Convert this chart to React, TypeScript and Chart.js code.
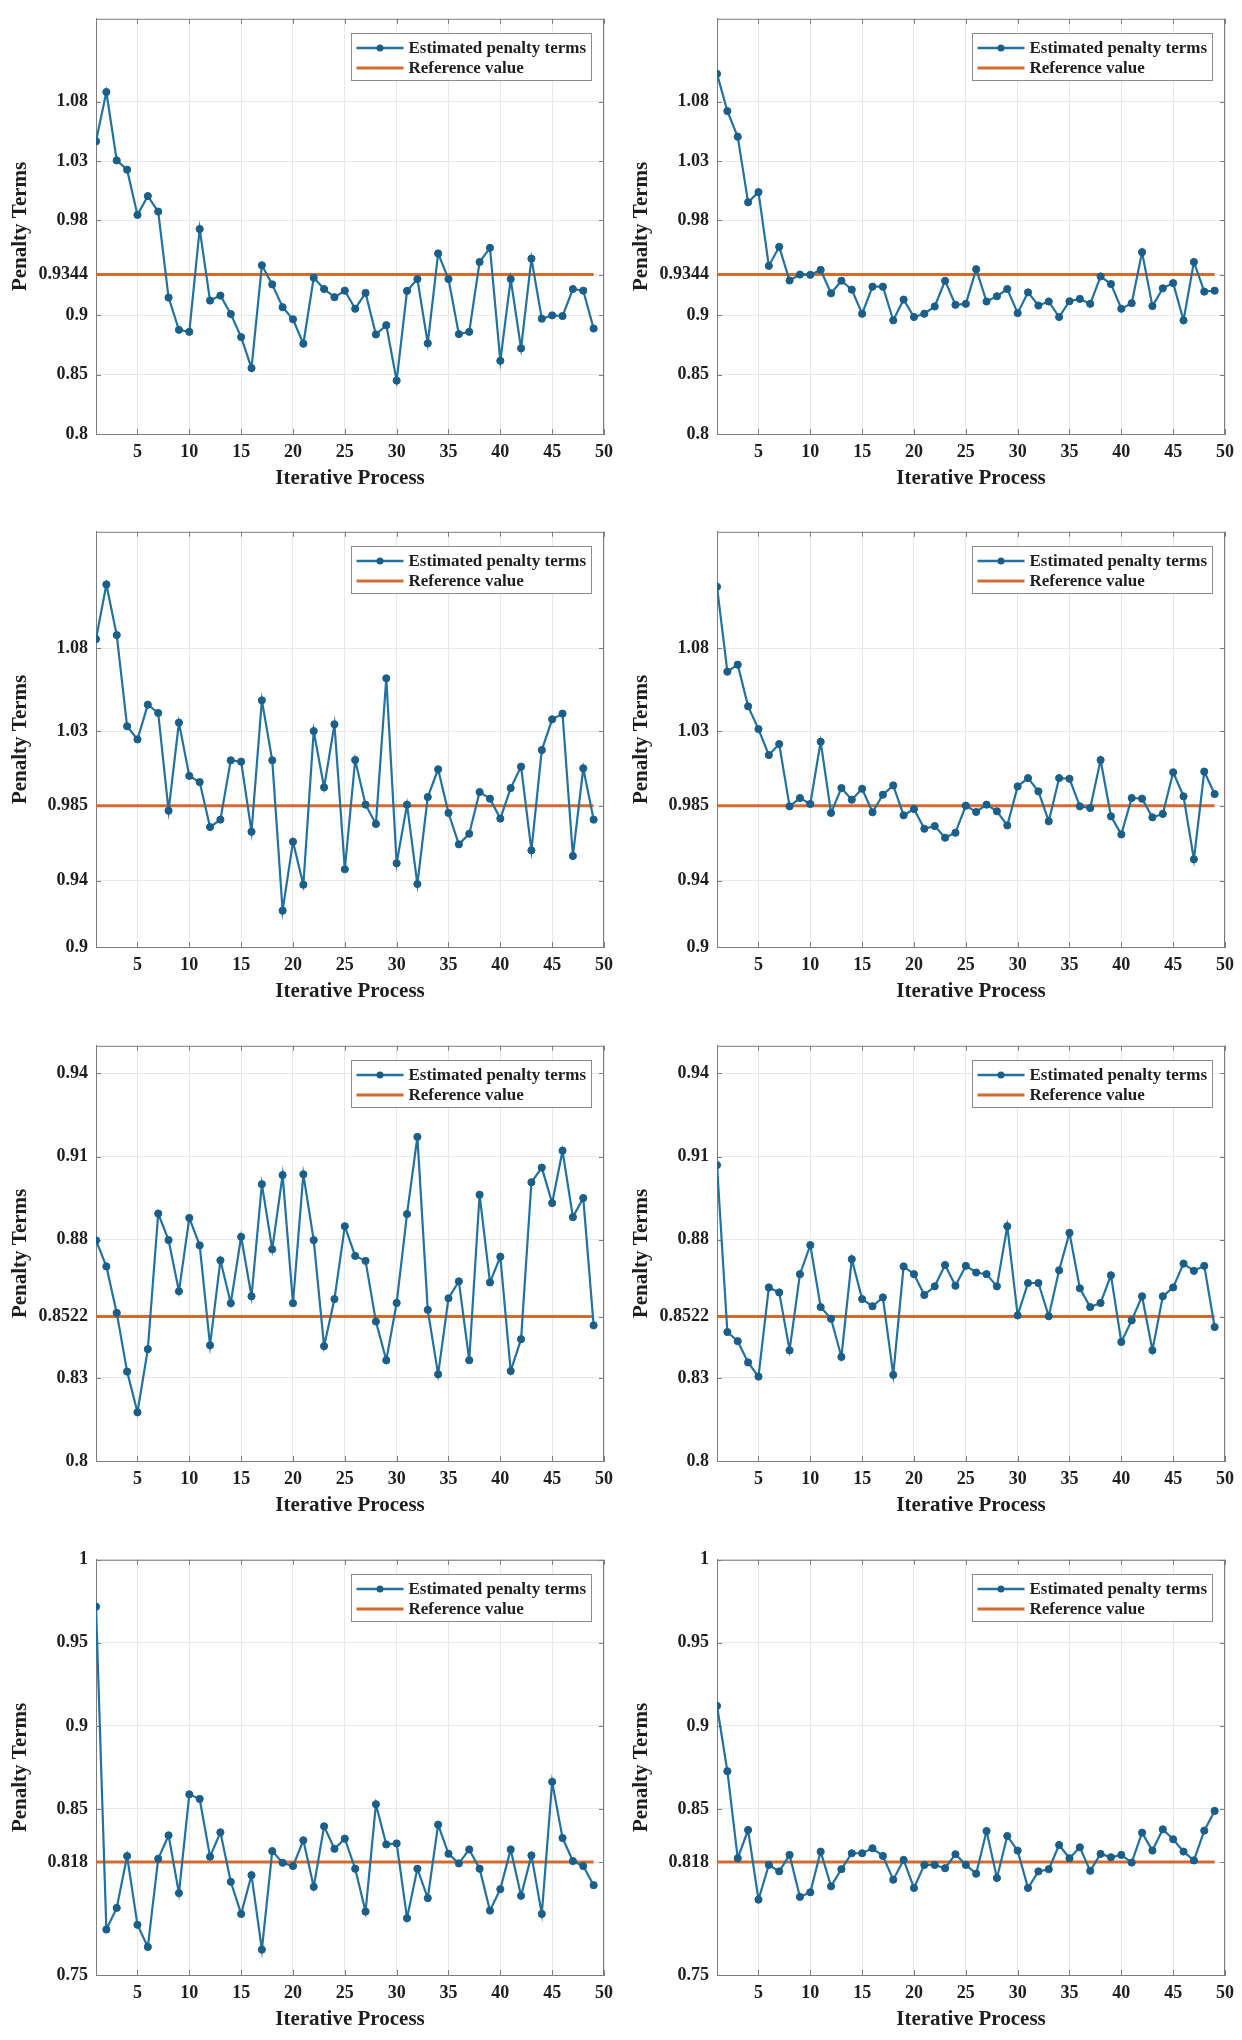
import React, { useEffect, useRef } from 'react';
import { Chart, registerables } from 'chart.js';

Chart.register(...registerables);

// Iteration index (x values)
const iterations = [
  1, 2, 3, 4, 5, 6, 7, 8, 9, 10,
  11, 12, 13, 14, 15, 16, 17, 18, 19, 20,
  21, 22, 23, 24, 25, 26, 27, 28, 29, 30,
  31, 32, 33, 34, 35, 36, 37, 38, 39, 40,
  41, 42, 43, 44, 45, 46, 47, 48, 49,
];
const xTickValues = [5, 10, 15, 20, 25, 30, 35, 40, 45, 50];

// Row 1
const series1 = [
  1.0467, 1.0883, 1.0306, 1.0228, 0.9847, 1.0006, 0.9875, 0.915, 0.8878, 0.8861,
  0.9728, 0.9125, 0.9167, 0.9011, 0.8817, 0.8556, 0.9422, 0.9261, 0.9069, 0.8967,
  0.8761, 0.9317, 0.9222, 0.9153, 0.9208, 0.9056, 0.9189, 0.8839, 0.8917, 0.845,
  0.9206, 0.9306, 0.8764, 0.9522, 0.9306, 0.8842, 0.8861, 0.945, 0.9569, 0.8617,
  0.9306, 0.8722, 0.9478, 0.8972, 0.9, 0.8994, 0.9222, 0.9208, 0.8889,
];
const series2 = [
  1.1036, 1.0722, 1.0506, 0.9953, 1.0039, 0.9417, 0.9578, 0.9294, 0.9344, 0.9342,
  0.9383, 0.9186, 0.9292, 0.9217, 0.9014, 0.9242, 0.9242, 0.8958, 0.9133, 0.8986,
  0.9014, 0.9075, 0.9292, 0.9089, 0.9097, 0.9389, 0.9117, 0.9161, 0.9222, 0.9019,
  0.9194, 0.9083, 0.9117, 0.8986, 0.9119, 0.9139, 0.9097, 0.9328, 0.9264, 0.9056,
  0.9103, 0.9533, 0.9078, 0.9228, 0.9272, 0.8958, 0.945, 0.92, 0.9208,
];
const reference12 = 0.9344;
const yTicks12 = [0.8, 0.85, 0.9, 0.9344, 0.98, 1.03, 1.08];
const yTickLabels12 = ['0.8', '0.85', '0.9', '0.9344', '0.98', '1.03', '1.08'];

// Row 2
const series3 = [
  1.0854, 1.1183, 1.0878, 1.0329, 1.025, 1.0459, 1.0409, 0.9821, 1.0351, 1.003,
  0.9993, 0.9722, 0.9767, 1.0124, 1.0116, 0.9694, 1.0485, 1.0124, 0.9219, 0.9634,
  0.9375, 1.03, 0.9961, 1.0341, 0.9468, 1.0126, 0.9857, 0.9741, 1.0618, 0.9504,
  0.9857, 0.9379, 0.9903, 1.007, 0.9807, 0.9618, 0.9682, 0.9933, 0.9893, 0.9773,
  0.9957, 1.0086, 0.9582, 1.0186, 1.0371, 1.0405, 0.9548, 1.0076, 0.9767,
];
const series4 = [
  1.1169, 1.0658, 1.07, 1.0449, 1.0312, 1.0156, 1.0222, 0.9847, 0.9897, 0.9861,
  1.0236, 0.9807, 0.9957, 0.9887, 0.9953, 0.9811, 0.9917, 0.9973, 0.9793, 0.9831,
  0.9712, 0.9728, 0.9658, 0.9688, 0.9851, 0.9813, 0.9857, 0.9817, 0.9732, 0.9967,
  1.0017, 0.9937, 0.9757, 1.0017, 1.0013, 0.9847, 0.9837, 1.0126, 0.9787, 0.9678,
  0.9897, 0.9893, 0.9781, 0.9801, 1.0052, 0.9907, 0.9528, 1.0056, 0.9921,
];
const reference34 = 0.985;
const yTicks34 = [0.9, 0.94, 0.985, 1.03, 1.08];
const yTickLabels34 = ['0.9', '0.94', '0.985', '1.03', '1.08'];

// Row 3
const series5 = [
  0.8797, 0.8703, 0.8535, 0.8323, 0.8176, 0.8404, 0.8894, 0.8798, 0.8613, 0.8878,
  0.8779, 0.8418, 0.8725, 0.857, 0.881, 0.8595, 0.9, 0.8765, 0.9033, 0.857,
  0.9036, 0.8798, 0.8415, 0.8585, 0.8848, 0.8741, 0.8723, 0.8504, 0.8364, 0.8571,
  0.8892, 0.9171, 0.8546, 0.8313, 0.8588, 0.8649, 0.8364, 0.8962, 0.8645, 0.8738,
  0.8325, 0.844, 0.9007, 0.906, 0.8932, 0.9121, 0.8881, 0.895, 0.849,
];
const series6 = [
  0.9069, 0.8466, 0.8433, 0.8356, 0.8305, 0.8627, 0.8609, 0.84, 0.8675, 0.878,
  0.8556, 0.8514, 0.8376, 0.8729, 0.8585, 0.8559, 0.8591, 0.8311, 0.8703, 0.8675,
  0.86, 0.8631, 0.8708, 0.8633, 0.8705, 0.8681, 0.8675, 0.8631, 0.8848, 0.8526,
  0.8643, 0.8643, 0.8523, 0.8689, 0.8824, 0.8624, 0.8556, 0.8571, 0.8671, 0.843,
  0.8508, 0.8595, 0.84, 0.8595, 0.8627, 0.8713, 0.8687, 0.8705, 0.8484,
];
const reference56 = 0.8522;
const yTicks56 = [0.8, 0.83, 0.8522, 0.88, 0.91, 0.94];
const yTickLabels56 = ['0.8', '0.83', '0.8522', '0.88', '0.91', '0.94'];

// Row 4
const series7 = [
  0.9718, 0.7774, 0.7904, 0.8216, 0.7802, 0.7669, 0.82, 0.8341, 0.7993, 0.8588,
  0.856, 0.8212, 0.8359, 0.8061, 0.7868, 0.8101, 0.7653, 0.8246, 0.8176, 0.8156,
  0.8311, 0.8031, 0.8395, 0.826, 0.8321, 0.814, 0.7882, 0.8528, 0.8286, 0.8292,
  0.7842, 0.814, 0.7963, 0.8405, 0.823, 0.8172, 0.8256, 0.814, 0.7888, 0.8017,
  0.8256, 0.7977, 0.822, 0.7868, 0.8663, 0.8325, 0.8186, 0.8156, 0.8041,
];
const series8 = [
  0.912, 0.8727, 0.8203, 0.8373, 0.7954, 0.8163, 0.8124, 0.8223, 0.797, 0.7998,
  0.8243, 0.8034, 0.8137, 0.8233, 0.8233, 0.8263, 0.8217, 0.8074, 0.8193, 0.8024,
  0.8163, 0.8163, 0.8143, 0.8227, 0.8163, 0.811, 0.8367, 0.8084, 0.8337, 0.8249,
  0.8024, 0.8124, 0.8137, 0.8283, 0.8203, 0.8269, 0.8127, 0.8229, 0.8209, 0.8223,
  0.8177, 0.8357, 0.8249, 0.8377, 0.8317, 0.8243, 0.819, 0.8369, 0.8488,
];
const reference78 = 0.818;
const yTicks78 = [0.75, 0.818, 0.85, 0.9, 0.95, 1];
const yTickLabels78 = ['0.75', '0.818', '0.85', '0.9', '0.95', '1'];

const legendLabels = ['Estimated penalty terms', 'Reference value'];
const xTitle = 'Iterative Process';
const yTitle = 'Penalty Terms';

const BLUE = '#22719f';
const BLUE_DARK = '#1b5f88';
const ORANGE = '#d56a2e';
const FONT = "'Liberation Serif', 'Times New Roman', serif";
const TEXT = '#1e1e1e';
const AXIS = '#7d7d7d';
const GRID = '#e8e8e8';

const CANVAS_W = 621;
const CANVAS_H = 499;

type PanelSpec = {
  values: number[];
  refValue: number;
  yMin: number;
  yMax: number;
  yTicks: number[];
  yTickLabels: string[];
  left: number;
  top: number;
};

const panels: PanelSpec[] = [
  { values: series1, refValue: reference12, yMin: 0.8, yMax: 1.15, yTicks: yTicks12, yTickLabels: yTickLabels12, left: 0, top: 0 },
  { values: series2, refValue: reference12, yMin: 0.8, yMax: 1.15, yTicks: yTicks12, yTickLabels: yTickLabels12, left: 621, top: 0 },
  { values: series3, refValue: reference34, yMin: 0.9, yMax: 1.15, yTicks: yTicks34, yTickLabels: yTickLabels34, left: 0, top: 513 },
  { values: series4, refValue: reference34, yMin: 0.9, yMax: 1.15, yTicks: yTicks34, yTickLabels: yTickLabels34, left: 621, top: 513 },
  { values: series5, refValue: reference56, yMin: 0.8, yMax: 0.95, yTicks: yTicks56, yTickLabels: yTickLabels56, left: 0, top: 1027 },
  { values: series6, refValue: reference56, yMin: 0.8, yMax: 0.95, yTicks: yTicks56, yTickLabels: yTickLabels56, left: 621, top: 1027 },
  { values: series7, refValue: reference78, yMin: 0.75, yMax: 1.0, yTicks: yTicks78, yTickLabels: yTickLabels78, left: 0, top: 1541 },
  { values: series8, refValue: reference78, yMin: 0.75, yMax: 1.0, yTicks: yTicks78, yTickLabels: yTickLabels78, left: 621, top: 1541 },
];

const framePlugin = {
  id: 'frameBox',
  beforeDatasetsDraw(chart: any) {
    const { ctx, chartArea, scales } = chart;
    const { left, right, top, bottom } = chartArea;
    ctx.save();
    ctx.strokeStyle = AXIS;
    ctx.lineWidth = 1;
    ctx.beginPath();
    ctx.moveTo(left, top + 0.5);
    ctx.lineTo(right, top + 0.5);
    ctx.moveTo(right - 0.5, top);
    ctx.lineTo(right - 0.5, bottom);
    // inward tick marks
    const tl = 5;
    scales.x.ticks.forEach((t: any) => {
      const px = Math.round(scales.x.getPixelForValue(t.value)) + 0.5;
      ctx.moveTo(px, bottom);
      ctx.lineTo(px, bottom - tl);
      ctx.moveTo(px, top);
      ctx.lineTo(px, top + tl);
    });
    scales.y.ticks.forEach((t: any) => {
      const py = Math.round(scales.y.getPixelForValue(t.value)) + 0.5;
      ctx.moveTo(left, py);
      ctx.lineTo(left + tl, py);
      ctx.moveTo(right, py);
      ctx.lineTo(right - tl, py);
    });
    ctx.stroke();
    ctx.restore();
  },
};

const legendPlugin = {
  id: 'boxLegend',
  afterDraw(chart: any) {
    const { ctx, chartArea } = chart;
    const w = 240;
    const h = 47;
    const x0 = Math.round(chartArea.right - 13 - w) + 0.5;
    const y0 = Math.round(chartArea.top + 14) + 0.5;
    ctx.save();
    ctx.fillStyle = '#ffffff';
    ctx.fillRect(x0, y0, w, h);
    ctx.strokeStyle = '#8c8c8c';
    ctx.lineWidth = 1;
    ctx.strokeRect(x0, y0, w, h);

    const lx1 = x0 + 5;
    const lx2 = x0 + 52;
    const r1 = y0 + 14.5;
    const r2 = y0 + 34.5;
    // row 1
    ctx.strokeStyle = BLUE;
    ctx.lineWidth = 2.5;
    ctx.beginPath();
    ctx.moveTo(lx1, r1);
    ctx.lineTo(lx2, r1);
    ctx.stroke();
    ctx.fillStyle = BLUE_DARK;
    ctx.beginPath();
    ctx.arc((lx1 + lx2) / 2, r1, 3.5, 0, Math.PI * 2);
    ctx.fill();
    // row 2
    ctx.strokeStyle = ORANGE;
    ctx.lineWidth = 3;
    ctx.beginPath();
    ctx.moveTo(lx1, r2);
    ctx.lineTo(lx2, r2);
    ctx.stroke();

    ctx.fillStyle = TEXT;
    ctx.font = `bold 17px ${FONT}`;
    ctx.textBaseline = 'middle';
    ctx.textAlign = 'left';
    ctx.fillText(legendLabels[0], x0 + 57, r1 + 1);
    ctx.fillText(legendLabels[1], x0 + 57, r2 + 1);
    ctx.restore();
  },
};

function Panel({ spec }: { spec: PanelSpec }) {
  const ref = useRef<HTMLCanvasElement | null>(null);
  useEffect(() => {
    if (!ref.current) return;
    const chart = new Chart(ref.current, {
      type: 'line',
      data: {
        datasets: [
          {
            label: legendLabels[0],
            data: iterations.map((x, i) => ({ x, y: spec.values[i] })),
            borderColor: BLUE,
            borderWidth: 2.2,
            pointRadius: 3.6,
            pointBackgroundColor: BLUE_DARK,
            pointBorderColor: BLUE_DARK,
            pointBorderWidth: 1,
            tension: 0,
            order: 0,
          },
          {
            label: legendLabels[1],
            data: [
              { x: iterations[0], y: spec.refValue },
              { x: iterations[iterations.length - 1], y: spec.refValue },
            ],
            borderColor: ORANGE,
            borderWidth: 3,
            pointRadius: 0,
            tension: 0,
            order: 1,
          },
        ],
      },
      options: {
        animation: false,
        responsive: false,
        maintainAspectRatio: false,
        events: [],
        layout: { padding: { left: 0, top: 14, right: 15, bottom: 0 } },
        plugins: {
          legend: { display: false },
          tooltip: { enabled: false },
        },
        scales: {
          x: {
            type: 'linear',
            min: 1,
            max: 50,
            afterBuildTicks: (scale: any) => {
              scale.ticks = xTickValues.map((v) => ({ value: v }));
            },
            afterFit: (scale: any) => {
              scale.height = 65;
            },
            grid: { color: GRID, lineWidth: 1, drawTicks: false },
            border: { color: AXIS, width: 1 },
            ticks: {
              padding: 8,
              color: TEXT,
              autoSkip: false,
              maxRotation: 0,
              font: { family: FONT, size: 18, weight: 'bold' },
              callback: (v: any) => String(v),
            },
            title: {
              display: true,
              text: xTitle,
              color: TEXT,
              font: { family: FONT, size: 21, weight: 'bold' },
              padding: { top: 0, bottom: 8 },
            },
          },
          y: {
            type: 'linear',
            min: spec.yMin,
            max: spec.yMax,
            afterBuildTicks: (scale: any) => {
              scale.ticks = spec.yTicks.map((v) => ({ value: v }));
            },
            afterFit: (scale: any) => {
              scale.width = 96;
            },
            grid: { color: GRID, lineWidth: 1, drawTicks: false },
            border: { color: AXIS, width: 1 },
            ticks: {
              padding: 8,
              color: TEXT,
              autoSkip: false,
              font: { family: FONT, size: 18, weight: 'bold' },
              callback: (_v: any, i: number) => spec.yTickLabels[i],
            },
            title: {
              display: true,
              text: yTitle,
              color: TEXT,
              font: { family: FONT, size: 21, weight: 'bold' },
              padding: { top: 8, bottom: 0 },
            },
          },
        },
      } as any,
      plugins: [framePlugin, legendPlugin],
    });
    return () => chart.destroy();
  }, [spec]);

  return (
    <canvas
      ref={ref}
      width={CANVAS_W}
      height={CANVAS_H}
      style={{
        position: 'absolute',
        left: spec.left,
        top: spec.top,
        width: CANVAS_W,
        height: CANVAS_H,
      }}
    />
  );
}

export default function App() {
  return (
    <div
      style={{
        position: 'absolute',
        left: 0,
        top: 0,
        width: 1242,
        height: 2040,
        overflow: 'hidden',
        background: '#ffffff',
      }}
    >
      {panels.map((p, i) => (
        <Panel key={i} spec={p} />
      ))}
    </div>
  );
}
